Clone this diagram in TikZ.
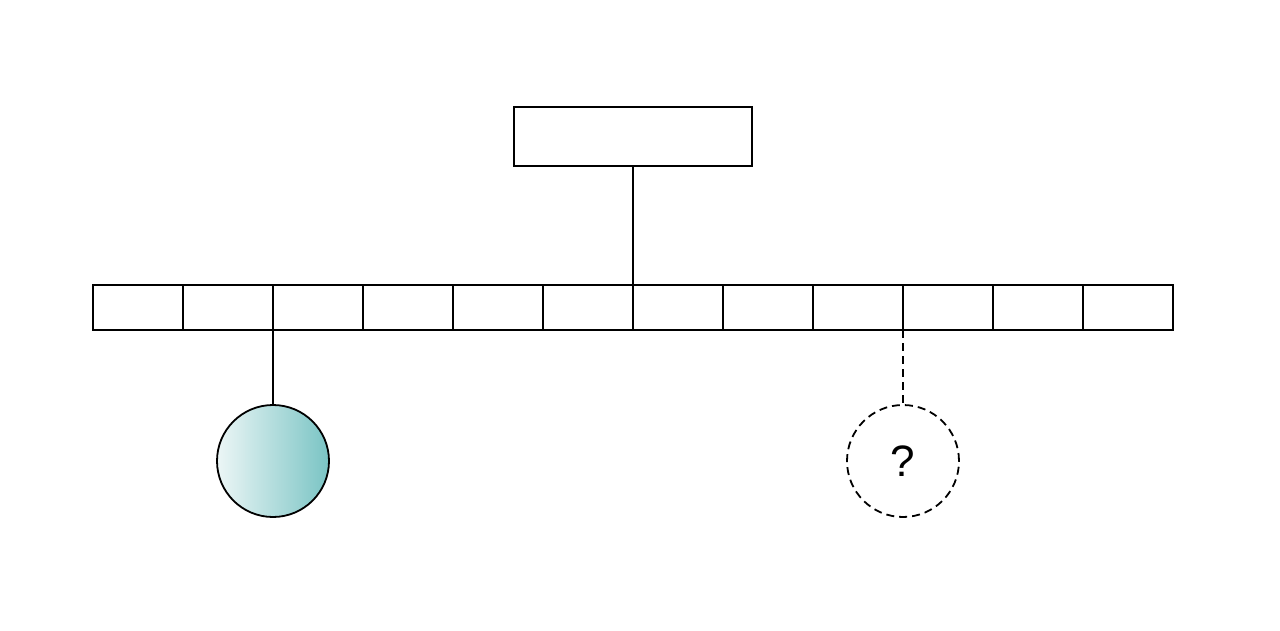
\documentclass[tikz,border=0pt]{standalone}
\usepackage{fontspec}
\setmainfont{Liberation Sans}
\definecolor{ballleft}{RGB}{236,246,246}
\definecolor{ballright}{RGB}{122,196,196}
\begin{document}
\begin{tikzpicture}[x=1pt,y=-1pt,
  box/.style={draw=black,line width=1.8pt,minimum width=90pt,minimum height=45pt,inner sep=0pt,outer sep=0pt},
  topbox/.style={draw=black,line width=1.8pt,minimum width=238pt,minimum height=59pt,inner sep=0pt,outer sep=0pt},
  ball/.style={circle,draw=black,line width=1.8pt,minimum size=112pt,inner sep=0pt,outer sep=0pt},
  link/.style={line width=1.8pt},
  dlink/.style={line width=1.8pt,dash pattern=on 8pt off 5pt}]
\useasboundingbox (0,0) rectangle (1280,630);
\node[topbox] (top) at (633,136.5) {};
\foreach \i in {0,...,11}{
  \node[box] (c\i) at ({138+90*\i},307.5) {};
}
\node[ball,left color=ballleft,right color=ballright] (full) at (273,461) {};
\node[ball,dlink,font=\fontsize{44}{44}\selectfont] (q) at (903,461) {?};
\draw[link] (top.south) -- (c5.north east);
\draw[link] (c1.south east) -- (full.north);
\draw[dlink] (c8.south east) -- (q.north);
\end{tikzpicture}
\end{document}
